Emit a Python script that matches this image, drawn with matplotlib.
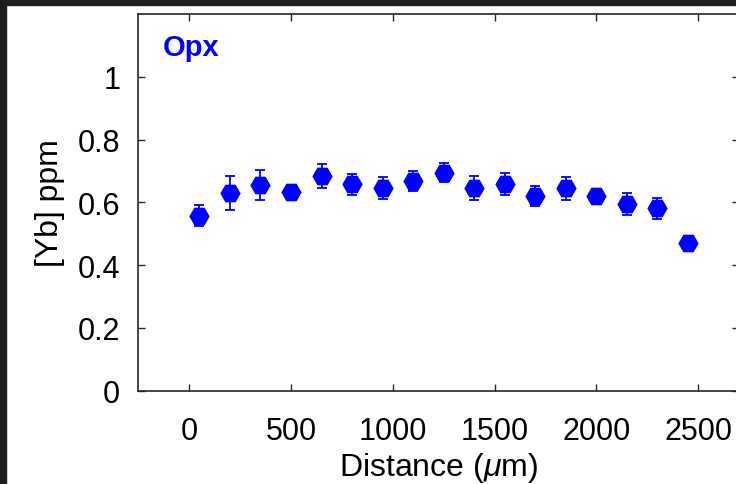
import matplotlib
matplotlib.use("Agg")
import matplotlib.pyplot as plt
from matplotlib.patches import Rectangle

distance = [50, 200, 350, 500, 650, 800, 950, 1100, 1250, 1400, 1550, 1700, 1850, 2000, 2150, 2300, 2450]
yb_ppm = [0.558, 0.630, 0.655, 0.632, 0.683, 0.657, 0.645, 0.668, 0.695, 0.645, 0.657, 0.620, 0.645, 0.620, 0.596, 0.581, 0.470]
yb_err = [0.034, 0.053, 0.049, 0.010, 0.038, 0.033, 0.035, 0.031, 0.030, 0.038, 0.035, 0.033, 0.036, 0.010, 0.035, 0.034, 0.010]
x_ticks = [0, 500, 1000, 1500, 2000, 2500]
y_ticks = [0, 0.2, 0.4, 0.6, 0.8, 1]
y_ticklabels = ["0", "0.2", "0.4", "0.6", "0.8", "1"]

plt.rcParams['font.family'] = ['Liberation Sans', 'DejaVu Sans']
plt.rcParams['mathtext.fontset'] = 'custom'
plt.rcParams['mathtext.it'] = 'Liberation Sans:italic'
plt.rcParams['mathtext.rm'] = 'Liberation Sans'

W, H = 736, 485
fig = plt.figure(figsize=(W / 100, H / 100), dpi=100)
fig.patch.set_facecolor('white')

left = 138.3 / W
bottom = (H - 391.7) / H
top = (H - 15) / H
xmin, xmax = -250, 2700
pxper = (698 - 189) / 2500
right = (138.3 + (xmax - xmin) * pxper) / W
ax = fig.add_axes([left, bottom, right - left, top - bottom])

ax.errorbar(distance, yb_ppm, yerr=yb_err, fmt='H', color='#0000ff', ms=13.5,
            mec='#0000ff', mfc='#0000ff', ecolor='#0000ff', elinewidth=1.3,
            capsize=3.5, capthick=1.3, zorder=3)

ax.set_xlim(xmin, xmax)
ax.set_ylim(0, 1.2)
ax.set_xticks(x_ticks)
ax.set_yticks(y_ticks)
ax.set_yticklabels(y_ticklabels)
ax.tick_params(direction='in', length=5, width=1, colors='#262626', labelsize=22,
               top=True, right=True, labelcolor='black')
ax.tick_params(axis='y', pad=13)
ax.tick_params(axis='x', pad=18)
for s in ax.spines.values():
    s.set_color('#262626')
    s.set_linewidth(1.2)
ax.set_xlabel(r'Distance ($\mu$m)', fontsize=23, labelpad=3)
ax.set_ylabel('[Yb] ppm', fontsize=23, labelpad=9)
ax.text(0.041, 0.912, 'Opx', transform=ax.transAxes, color='#0000ff',
        fontsize=21, fontweight='bold', va='center', ha='left')

# dark screenshot border
fig.patches.append(Rectangle((0, (H - 6) / H), 1, 6 / H, transform=fig.transFigure,
                             color='#1e1e1e', zorder=10))
fig.patches.append(Rectangle((0, 0), 6 / W, 1, transform=fig.transFigure,
                             color='#1e1e1e', zorder=10))

fig.savefig('out.png', dpi=100)
